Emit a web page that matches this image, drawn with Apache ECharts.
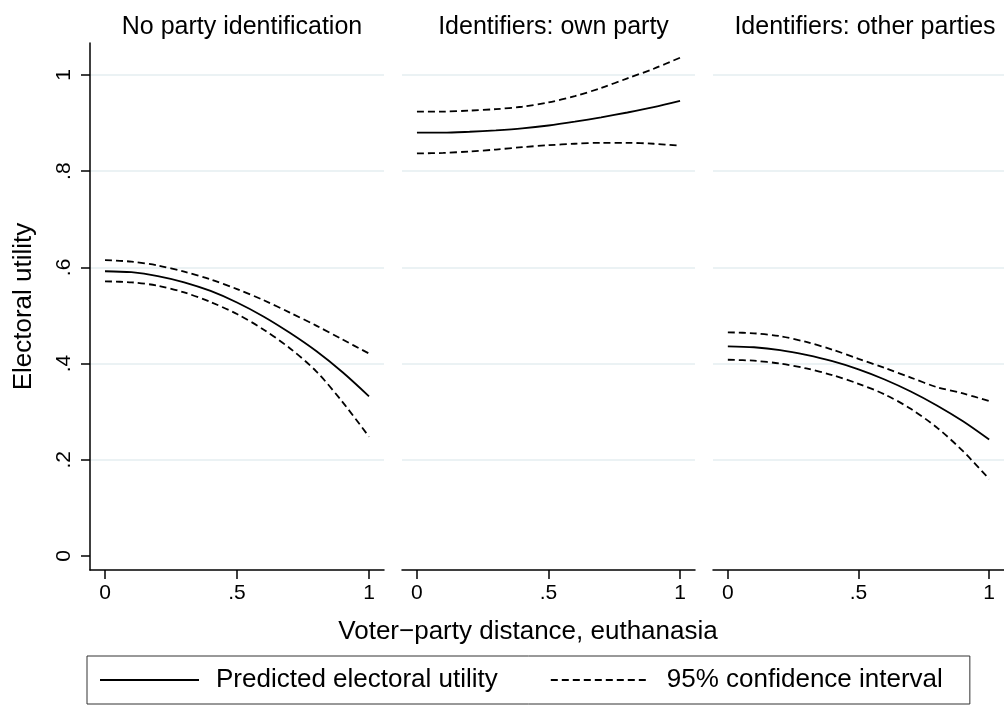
<!DOCTYPE html>
<html>
<head>
<meta charset="utf-8">
<script src="https://cdn.jsdelivr.net/npm/echarts@6/dist/echarts.min.js"></script>
<style>
html,body{margin:0;padding:0;background:#fff;}
#chart{width:1004px;height:706px;}
</style>
</head>
<body>
<div id="chart"></div>
<script>
// ---- data ----
const panelTitles = ['No party identification', 'Identifiers: own party', 'Identifiers: other parties'];
const xValues = [0, 0.1, 0.2, 0.3, 0.4, 0.5, 0.6, 0.7, 0.8, 0.9, 1.0];
const xTicks = [0, 0.5, 1];
const yTicks = [0, 0.2, 0.4, 0.6, 0.8, 1];
const xTickLabels = ['0', '.5', '1'];
const yTickLabels = ['0', '.2', '.4', '.6', '.8', '1'];

// No party identification
const noPidFit   = [0.592, 0.590, 0.582, 0.569, 0.551, 0.527, 0.498, 0.464, 0.426, 0.382, 0.332];
const noPidUpper = [0.615, 0.612, 0.604, 0.591, 0.575, 0.555, 0.532, 0.506, 0.479, 0.450, 0.421];
const noPidLower = [0.571, 0.569, 0.562, 0.548, 0.528, 0.503, 0.471, 0.432, 0.384, 0.320, 0.248];
// Identifiers: own party
const ownFit   = [0.880, 0.880, 0.882, 0.885, 0.889, 0.895, 0.903, 0.912, 0.922, 0.933, 0.946];
const ownUpper = [0.924, 0.924, 0.926, 0.929, 0.934, 0.943, 0.956, 0.973, 0.993, 1.013, 1.036];
const ownLower = [0.837, 0.838, 0.841, 0.845, 0.850, 0.854, 0.857, 0.859, 0.859, 0.857, 0.853];
// Identifiers: other parties
const otherFit   = [0.436, 0.434, 0.428, 0.418, 0.405, 0.388, 0.367, 0.342, 0.313, 0.280, 0.242];
const otherUpper = [0.465, 0.463, 0.457, 0.445, 0.429, 0.410, 0.391, 0.371, 0.351, 0.338, 0.322];
const otherLower = [0.408, 0.406, 0.400, 0.390, 0.376, 0.358, 0.336, 0.306, 0.267, 0.218, 0.160];

const xAxisTitle = 'Voter\u2212party distance, euthanasia';
const yAxisTitle = 'Electoral utility';
const fitName = 'Predicted electoral utility';
const ciName = '95% confidence interval';

// ---- layout ----
const FONT = 'Liberation Sans, Arial, Helvetica, sans-serif';
const grids = [
  {left: 90, top: 43, width: 294, height: 527},
  {left: 402, top: 43, width: 293, height: 527},
  {left: 713, top: 43, width: 294, height: 527}
];
const XMIN = -0.0568, XMAX = 1.0568;
const YMIN = -0.0291, YMAX = 1.0665;

const panels = [
  [noPidFit, noPidUpper, noPidLower],
  [ownFit, ownUpper, ownLower],
  [otherFit, otherUpper, otherLower]
];

function pairs(vals) { return xValues.map((x, i) => [x, vals[i]]); }
function fmt(list, labels) { return v => { const i = list.findIndex(t => Math.abs(t - v) < 1e-9); return i >= 0 ? labels[i] : ''; }; }

const gridColor = '#e4eef1';

const xAxes = grids.map((g, i) => ({
  type: 'value', gridIndex: i, min: XMIN, max: XMAX,
  axisLine: {show: true, onZero: false, lineStyle: {color: '#000', width: 1.5}},
  axisTick: {show: true, length: 9, lineStyle: {color: '#000', width: 1.5}, customValues: xTicks},
  axisLabel: {show: true, customValues: xTicks, formatter: fmt(xTicks, xTickLabels), color: '#000',
              fontFamily: FONT, fontSize: 21, margin: 13},
  splitLine: {show: false},
  name: i === 1 ? xAxisTitle : '',
  nameLocation: 'middle', nameGap: 49,
  nameTextStyle: {color: '#000', fontFamily: FONT, fontSize: 26, padding: [0, 41, 0, 0]}
}));

const yAxes = grids.map((g, i) => ({
  type: 'value', gridIndex: i, min: YMIN, max: YMAX,
  axisLine: {show: i === 0, onZero: false, lineStyle: {color: '#000', width: 1.5}},
  axisTick: {show: i === 0, length: 9, lineStyle: {color: '#000', width: 1.5}, customValues: yTicks},
  axisLabel: {show: i === 0, customValues: yTicks, formatter: fmt(yTicks, yTickLabels), rotate: 90, color: '#000',
              fontFamily: FONT, fontSize: 21, margin: 15},
  splitLine: {show: true, lineStyle: {color: ['rgba(0,0,0,0)', gridColor, gridColor, gridColor, gridColor, gridColor], width: 1.5}},
  name: i === 0 ? yAxisTitle : '',
  nameLocation: 'middle', nameGap: 53,
  nameTextStyle: {color: '#000', fontFamily: FONT, fontSize: 26, padding: [0, 0, 0, 0]}
}));

const series = [];
panels.forEach((p, i) => {
  series.push({
    name: fitName, type: 'line', xAxisIndex: i, yAxisIndex: i, data: pairs(p[0]),
    symbol: 'none', smooth: 0.3, lineStyle: {color: '#000', width: 1.8, type: 'solid'},
    itemStyle: {color: '#000'}, z: 3, silent: true, animation: false
  });
  [p[1], p[2]].forEach(ci => series.push({
    name: ciName, type: 'line', xAxisIndex: i, yAxisIndex: i, data: pairs(ci),
    symbol: 'none', smooth: 0.3, lineStyle: {color: '#000', width: 1.8, type: [7, 4]},
    itemStyle: {color: '#000'}, z: 3, silent: true, animation: false
  }));
});

const titles = grids.map((g, i) => ({
  text: panelTitles[i], left: g.left + g.width / 2, top: 10, textAlign: 'center',
  textStyle: {color: '#000', fontFamily: FONT, fontSize: 25, fontWeight: 'normal'}
}));

const chart = echarts.init(document.getElementById('chart'), null, {renderer: 'canvas'});
chart.setOption({
  animation: false,
  backgroundColor: '#fff',
  title: titles,
  grid: grids,
  xAxis: xAxes,
  yAxis: yAxes,
  legend: {
    data: [fitName, ciName],
    left: 87, top: 656,
    padding: [11, 27, 11, 12],
    itemGap: 52, itemWidth: 99, itemHeight: 14,
    borderColor: '#333', borderWidth: 1,
    selectedMode: false,
    itemStyle: {opacity: 0},
    textStyle: {color: '#000', fontFamily: FONT, fontSize: 26, padding: [0, 9, 0, 12]}
  },
  series: series
});
</script>
</body>
</html>
